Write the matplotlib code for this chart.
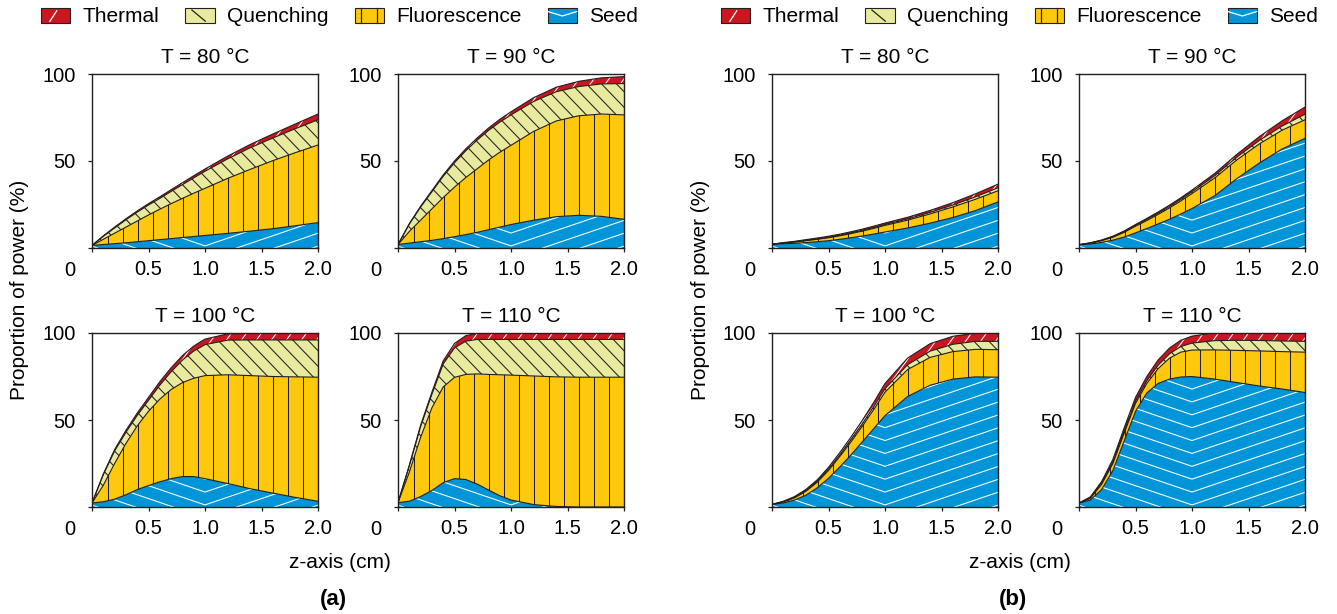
import numpy as np
import matplotlib
matplotlib.use('Agg')
import matplotlib.pyplot as plt
from matplotlib.collections import LineCollection
from matplotlib.patches import Rectangle
from matplotlib.lines import Line2D
from matplotlib.legend_handler import HandlerBase

plt.rcParams['font.family'] = ['Liberation Sans', 'DejaVu Sans']

# position along the fibre (cm)
z = [0, 0.1, 0.2, 0.3, 0.4, 0.5, 0.6, 0.7, 0.8, 0.9, 1.0, 1.2, 1.4, 1.6, 1.8, 2.0]
temps = [80, 90, 100, 110]

# ---- panel (a): proportion of power (%) in each band
seed_a = {
    80: [1.5, 2.0, 2.5, 3.0, 3.6, 4.2, 4.8, 5.4, 6.0, 6.6, 7.2, 8.4, 9.7, 11.1, 12.8, 14.6],
    90: [2.0, 2.8, 3.6, 4.4, 5.4, 6.5, 7.7, 9.0, 10.5, 12.0, 13.5, 16.0, 18.0, 18.8, 18.2, 16.5],
    100: [2.3, 3.0, 4.5, 7.0, 10.0, 12.3, 14.5, 16.3, 17.5, 17.5, 16.3, 13.5, 10.5, 8.0, 5.5, 3.3],
    110: [2.5, 3.3, 6.0, 9.5, 14.0, 16.3, 15.8, 13.2, 9.8, 6.5, 4.0, 1.4, 0.3, 0, 0, 0],
}
fluor_a = {
    80: [0, 3.0, 6.0, 9.0, 11.9, 14.8, 17.5, 20.1, 22.5, 24.9, 27.1, 31.6, 35.5, 39.1, 42.0, 44.6],
    90: [0, 6.7, 12.4, 18.1, 23.6, 28.5, 32.8, 36.5, 40.0, 43.0, 45.5, 51.0, 55.0, 57.2, 58.8, 60.0],
    100: [0, 9.5, 20.5, 29.5, 36.6, 42.7, 47.5, 51.2, 54.0, 56.5, 59.2, 62.5, 65.0, 67.0, 69.3, 71.3],
    110: [0, 16.7, 34.0, 47.5, 55.0, 58.2, 60.4, 63.3, 66.4, 69.5, 71.8, 73.9, 74.5, 74.6, 74.6, 74.6],
}
quench_a = {
    80: [0, 1.7, 3.0, 4.2, 5.1, 5.7, 6.2, 7.0, 7.9, 8.8, 9.8, 11.2, 12.4, 13.0, 13.8, 14.5],
    90: [0, 4.2, 7.5, 9.8, 12.2, 14.0, 15.4, 16.5, 17.0, 17.3, 17.5, 17.2, 16.8, 16.8, 17.3, 18.0],
    100: [0, 6.0, 7.2, 6.4, 6.0, 6.3, 8.0, 10.2, 12.9, 15.6, 17.8, 19.9, 20.5, 21.0, 21.2, 21.4],
    110: [0, 3.6, 6.2, 7.8, 13.2, 16.9, 19.1, 19.8, 20.1, 20.3, 20.5, 21.0, 21.5, 21.7, 21.7, 21.7],
}
thermal_a = {
    80: [0, 0.3, 0.5, 0.6, 0.7, 0.8, 0.9, 1.0, 1.1, 1.2, 1.3, 1.6, 1.9, 2.3, 2.7, 3.3],
    90: [0, 0.3, 0.5, 0.7, 0.8, 1.0, 1.1, 1.2, 1.4, 1.6, 1.8, 2.2, 2.6, 3.0, 3.5, 4.0],
    100: [0, 0.5, 0.8, 1.1, 1.4, 1.7, 2.0, 2.3, 2.6, 2.9, 3.2, 3.6, 3.8, 3.8, 3.8, 3.8],
    110: [0, 0.4, 0.8, 1.2, 1.8, 2.6, 3.2, 3.5, 3.5, 3.5, 3.5, 3.5, 3.5, 3.5, 3.5, 3.5],
}

# ---- panel (b)
seed_b = {
    80: [2.2, 2.4, 2.7, 3.1, 3.6, 4.2, 5.0, 5.9, 6.9, 8.0, 9.2, 11.5, 14.3, 17.5, 21.5, 26.5],
    90: [1.9, 2.3, 3.2, 4.5, 6.3, 8.7, 11.2, 13.8, 16.5, 19.5, 22.7, 30.0, 40.0, 49.0, 57.0, 63.0],
    100: [1.5, 2.3, 4.0, 6.8, 11.0, 16.5, 23.0, 30.0, 37.5, 45.0, 52.5, 63.5, 70.0, 73.5, 74.8, 74.6],
    110: [2.3, 4.0, 10.0, 21.0, 38.0, 55.0, 65.5, 71.0, 73.5, 74.7, 75.0, 73.5, 71.5, 69.5, 67.8, 65.8],
}
fluor_b = {
    80: [0, 0.4, 0.7, 1.1, 1.4, 1.7, 2.0, 2.4, 2.8, 3.3, 3.8, 4.5, 5.3, 6.1, 6.5, 6.4],
    90: [0, 0.5, 1.0, 1.7, 2.7, 3.8, 4.6, 5.5, 6.5, 7.5, 8.6, 10.2, 10.8, 11.0, 10.8, 10.7],
    100: [0, 0.6, 1.3, 2.2, 3.2, 4.5, 6.0, 7.5, 9.0, 11.0, 13.5, 15.5, 16.0, 15.8, 15.8, 15.8],
    110: [0, 1.0, 3.0, 4.0, 4.5, 4.5, 5.5, 8.5, 12.0, 14.3, 15.2, 16.8, 18.5, 20.2, 21.5, 23.2],
}
quench_b = {
    80: [0, 0.1, 0.15, 0.2, 0.25, 0.3, 0.35, 0.4, 0.45, 0.5, 0.55, 0.7, 0.9, 1.1, 1.4, 1.7],
    90: [0, 0.1, 0.2, 0.3, 0.4, 0.5, 0.6, 0.7, 0.8, 0.9, 1.0, 1.3, 1.6, 2.0, 2.4, 3.2],
    100: [0, 0.2, 0.3, 0.5, 0.6, 0.8, 1.0, 1.2, 1.4, 1.7, 2.0, 2.8, 3.6, 4.2, 4.6, 4.8],
    110: [0, 0.3, 0.6, 0.9, 1.0, 1.2, 1.5, 2.0, 2.5, 3.2, 4.0, 5.3, 5.8, 6.0, 6.1, 6.2],
}
thermal_b = {
    80: [0, 0.2, 0.3, 0.4, 0.5, 0.55, 0.6, 0.65, 0.7, 0.75, 0.8, 0.95, 1.1, 1.35, 1.7, 2.1],
    90: [0, 0.1, 0.2, 0.3, 0.4, 0.5, 0.6, 0.7, 0.8, 0.9, 1.0, 1.3, 1.6, 2.2, 3.0, 4.1],
    100: [0, 0.2, 0.4, 0.6, 0.8, 1.0, 1.3, 1.6, 2.0, 2.4, 3.0, 3.8, 4.3, 4.6, 4.7, 4.6],
    110: [0, 0.5, 1.0, 1.5, 2.0, 2.3, 2.5, 3.0, 3.3, 3.6, 4.0, 4.5, 4.7, 4.8, 4.8, 4.8],
}

names = ['Thermal', 'Quenching', 'Fluorescence', 'Seed']
colors = {'Thermal': '#c9161f', 'Quenching': '#e8ea9e',
          'Fluorescence': '#fec80c', 'Seed': '#0095d8'}
line_col = {'Thermal': 'white', 'Quenching': '#231f20',
            'Fluorescence': '#231f20', 'Seed': 'white'}
edge = '#231f20'

W, H = 1337, 614
AX_W, AX_H = 226, 174
step = 15.0 / AX_W   # spacing of the pattern lines (axes fraction)


def pattern(name):
    # pattern lines in axes-fraction coordinates
    segs = []
    if name == 'Fluorescence':
        for xa in np.arange(0.07, 1.0, step):
            segs.append([(xa, 0), (xa, 1)])
    elif name == 'Quenching':
        k = 1.35
        for c in np.arange(-1.0, 1.05, step):
            segs.append([(c, 1), (c + 1 / k, 0)])
    elif name == 'Thermal':
        k = 1.8
        for c in np.arange(-1.0, 1.05, step):
            segs.append([(c, 0), (c + 1 / k, 1)])
    else:
        k = 0.34 * AX_W / AX_H
        for j in range(-5, 16):
            y0 = 0.012 + j * 0.074
            segs.append([(0, y0 + 0.5 * k), (0.5, y0), (1, y0 + 0.5 * k)])
    return segs


def draw_panel(ax, seed, fluor, quench, thermal, t):
    x = np.array(z)
    bands = [('Seed', seed), ('Fluorescence', fluor), ('Quenching', quench), ('Thermal', thermal)]
    lower = np.zeros(len(x))
    for name, vals in bands:
        upper = lower + np.array(vals)
        coll = ax.fill_between(x, lower, upper, facecolor=colors[name], edgecolor='none', lw=0, zorder=1)
        lc = LineCollection(pattern(name), colors=line_col[name], linewidths=0.75,
                            transform=ax.transAxes, zorder=2)
        ax.add_collection(lc)
        lc.set_clip_path(coll.get_paths()[0], ax.transData)
        ax.plot(x, upper, color=edge, lw=0.8, zorder=3)
        lower = upper

    ax.set_xlim(0, 2)
    ax.set_ylim(0, 100)
    ax.set_xticks([0, 0.5, 1.0, 1.5, 2.0])
    ax.set_xticklabels(['', '0.5', '1.0', '1.5', '2.0'])
    ax.set_yticks([0, 50, 100])
    ax.set_yticklabels(['', '50', '100'])
    ax.tick_params(axis='x', direction='out', length=3, width=0.9, pad=5.8, labelsize=14.5, color=edge)
    ax.tick_params(axis='y', direction='out', length=3, width=0.9, pad=8.6, labelsize=14.5, color=edge)
    for s in ax.spines.values():
        s.set_linewidth(1.0)
        s.set_color(edge)
        s.set_zorder(4)
    ax.set_title('T = %d °C' % t, fontsize=15, pad=8)
    ax.annotate('0', xy=(0, 0), xycoords='axes fraction', xytext=(-16, -16.5),
                textcoords='offset points', ha='center', va='center', fontsize=14.5)


class BandHandler(HandlerBase):
    def create_artists(self, legend, orig_handle, xdescent, ydescent, width, height, fontsize, trans):
        name = orig_handle.get_label()
        x0, y0 = -xdescent, -ydescent
        arts = [Rectangle((x0, y0), width, height, facecolor=colors[name], edgecolor=edge,
                          lw=0.8, transform=trans)]
        marks = {
            'Thermal': [([0.3, 0.54], [0.08, 0.8])],
            'Quenching': [([0.22, 0.68], [0.85, 0.1])],
            'Fluorescence': [([0.23, 0.23], [0, 1]), ([0.76, 0.76], [0, 1])],
            'Seed': [([0.0, 0.5, 1.0], [0.75, 0.45, 0.75])],
        }
        for xs, ys in marks[name]:
            arts.append(Line2D([x0 + width * v for v in xs], [y0 + height * v for v in ys],
                               color=line_col[name], lw=0.9, transform=trans))
        return arts


fig = plt.figure(figsize=(W / 100, H / 100), dpi=100)

lefts = [92, 398, 772, 1079]
tops = [74, 333]
sets = [(seed_a, fluor_a, quench_a, thermal_a), (seed_b, fluor_b, quench_b, thermal_b)]

for p in range(2):
    data = sets[p]
    for i, t in enumerate(temps):
        row, col = divmod(i, 2)
        left = lefts[2 * p + col]
        top = tops[row]
        ax = fig.add_axes([left / W, 1 - (top + AX_H) / H, AX_W / W, AX_H / H])
        draw_panel(ax, data[0][t], data[1][t], data[2][t], data[3][t], t)

    off = 680 * p
    handles = [Rectangle((0, 0), 1, 1, label=n) for n in names]
    fig.legend(handles, names, loc='center left', bbox_to_anchor=((41 + off) / W, 1 - 17 / H),
               ncol=4, frameon=False, fontsize=15, handlelength=1.4, handleheight=0.72,
               handletextpad=0.6, columnspacing=1.25, borderpad=0, borderaxespad=0,
               handler_map={h: BandHandler() for h in handles})
    fig.text((20 + off) / W, 1 - 290 / H, 'Proportion of power (%)', rotation=90,
             ha='center', va='center', fontsize=15)
    fig.text((340 + off) / W, 1 - 562 / H, 'z-axis (cm)', ha='center', va='center', fontsize=15)
    fig.text((333 + off) / W, 1 - 599 / H, '(a)' if p == 0 else '(b)', ha='center', va='center',
             fontsize=16, fontweight='bold')

fig.savefig('out.png', dpi=100)
